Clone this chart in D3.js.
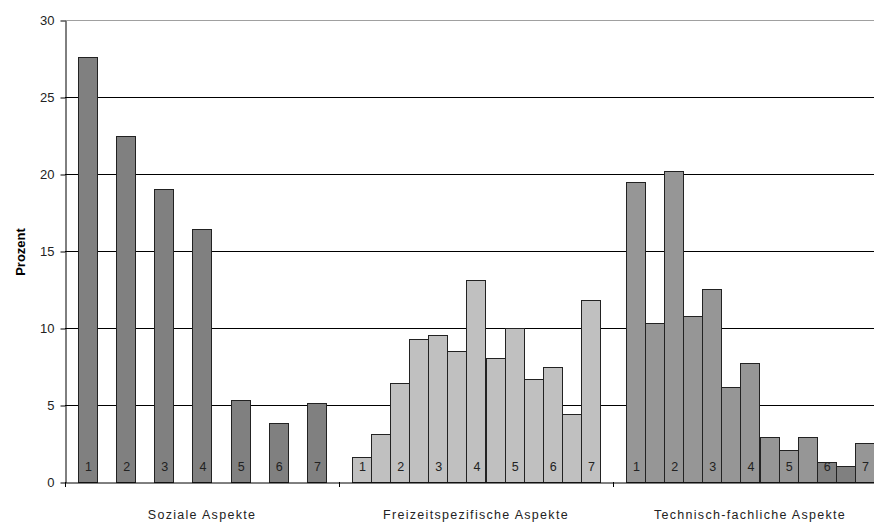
<!DOCTYPE html>
<html><head><meta charset="utf-8">
<script src="https://cdn.jsdelivr.net/npm/d3@7"></script>
<style>body{margin:0;background:#fff}svg{display:block}text{font-family:Arial,"Liberation Sans",sans-serif}</style>
</head><body><svg id="c" width="874" height="525"></svg>
<script>
const categories = ["Soziale Aspekte", "Freizeitspezifische Aspekte", "Technisch-fachliche Aspekte"];
const slotLabels = ["1","","2","","3","","4","","5","","6","","7"];
const sozialeValues = [27.6, null, 22.5, null, 19.0, null, 16.4, null, 5.3, null, 3.8, null, 5.1];
const freizeitValues = [1.6, 3.1, 6.45, 9.3, 9.55, 8.5, 13.1, 8.05, 10.0, 6.7, 7.45, 4.4, 11.8];
const technischValues = [19.5, 10.3, 20.2, 10.8, 12.55, 6.2, 7.7, 2.9, 2.1, 2.9, 1.3, 1.05, 2.55];
const yTicks = [0, 5, 10, 15, 20, 25, 30];
const yTitle = "Prozent";

const seriesByCat = [sozialeValues, freizeitValues, technischValues];
const catFill = ["#808080", "#c0c0c0", "#969696"];
const darkFill = "#808080";

const svg = d3.select("#c");
const mLeft = 65, mRight = 887, mTop = 20, mBottom = 482;
const x0 = d3.scaleBand().domain(categories).range([mLeft, mRight]).paddingInner(0).paddingOuter(0);
const slots = d3.range(slotLabels.length);
const x1 = d3.scaleBand().domain(slots).range([0, x0.bandwidth()]).paddingInner(0).paddingOuter(0.68);
const y = d3.scaleLinear().domain([0, 30]).range([mBottom, mTop]);

// gridlines
svg.append("g").selectAll("line").data(yTicks.filter(t => t > 0)).join("line")
  .attr("x1", mLeft).attr("x2", mRight)
  .attr("y1", d => y(d) + 0.5).attr("y2", d => y(d) + 0.5)
  .attr("stroke", d => d === 30 ? "#a0a0a0" : "#000").attr("stroke-width", 1);

// bars
const bars = [];
categories.forEach((c, ci) => {
  seriesByCat[ci].forEach((v, si) => {
    if (v != null) bars.push({c, ci, si, v});
  });
});
svg.append("g").selectAll("rect").data(bars).join("rect")
  .attr("x", d => Math.round(x0(d.c) + x1(d.si)) + 0.5)
  .attr("width", d => Math.round(x1.bandwidth()))
  .attr("y", d => Math.round(y(d.v)) + 0.5)
  .attr("height", d => mBottom - Math.round(y(d.v)))
  .attr("fill", d => (d.ci === 2 && (d.si === 10 || d.si === 11)) ? darkFill : catFill[d.ci])
  .attr("stroke", "#222").attr("stroke-width", 1);

// slot labels
svg.append("g").selectAll("text").data(bars.filter(d => slotLabels[d.si] !== "")).join("text")
  .attr("x", d => x0(d.c) + x1(d.si) + x1.bandwidth() / 2 + 1)
  .attr("y", 471)
  .attr("text-anchor", "middle")
  .attr("font-size", 12.5).attr("fill", "#222")
  .text(d => slotLabels[d.si]);

// y axis
const yAxis = d3.axisLeft(y).tickValues(yTicks).tickSize(5).tickPadding(6).tickSizeOuter(0);
const gy = svg.append("g").attr("transform", `translate(${mLeft + 0.5},0.5)`).call(yAxis);
gy.select(".domain").attr("stroke", "#000");
gy.selectAll(".tick line").attr("stroke", "#000");
gy.selectAll(".tick text").attr("font-size", 13).attr("fill", "#222").attr("font-family", "Arial, 'Liberation Sans', sans-serif");

// x axis
const xAxis = d3.axisBottom(x0).tickSize(0).tickFormat("");
const gx = svg.append("g").attr("transform", `translate(0,${mBottom + 0.5})`).call(xAxis);
gx.select(".domain").attr("stroke", "#000");
svg.append("g").selectAll("line").data(categories.map(c => x0(c)).concat([mRight])).join("line")
  .attr("x1", d => Math.round(d) + 0.5).attr("x2", d => Math.round(d) + 0.5)
  .attr("y1", mBottom).attr("y2", mBottom + 5).attr("stroke", "#000");
svg.append("g").selectAll("text").data(categories).join("text")
  .attr("x", d => x0(d) + x0.bandwidth() / 2)
  .attr("y", 519)
  .attr("text-anchor", "middle").attr("font-size", 12.5).attr("fill", "#222")
  .attr("letter-spacing", 1.3)
  .text(d => d);

// y title
svg.append("text").attr("transform", "translate(25,252) rotate(-90)")
  .attr("text-anchor", "middle").attr("font-size", 13).attr("font-weight", "bold")
  .attr("fill", "#000").text(yTitle);
</script></body></html>
